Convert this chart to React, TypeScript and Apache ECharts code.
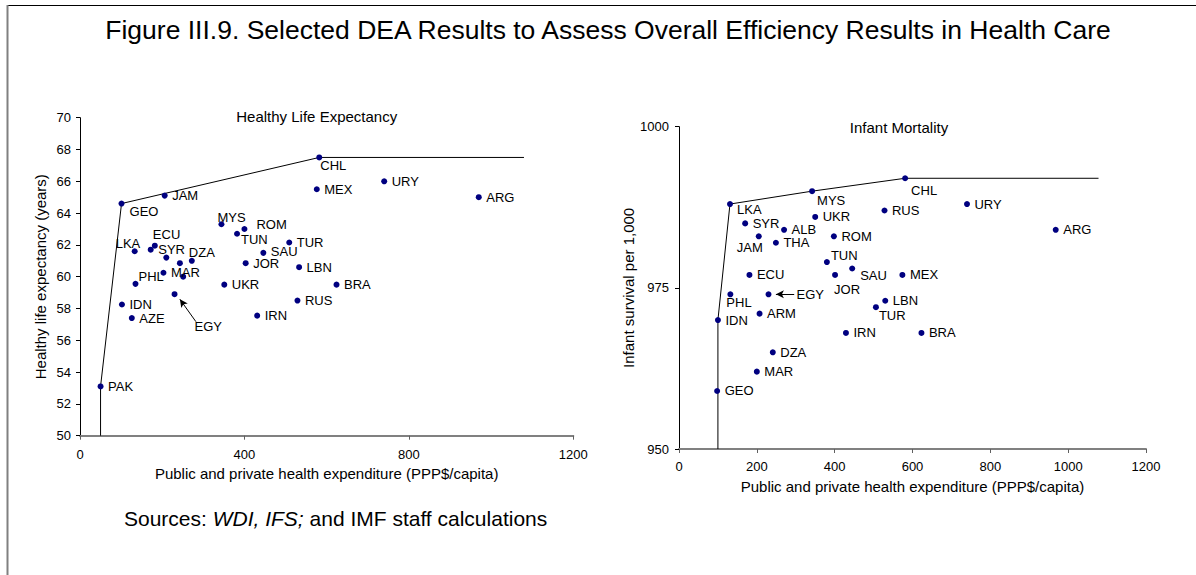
import React, { useEffect, useRef } from 'react';
import * as echarts from 'echarts';

// ---------- Data: Healthy Life Expectancy (left panel) ----------
const leftCountries = ['PAK', 'GEO', 'JAM', 'CHL', 'MEX', 'URY', 'ARG', 'MYS', 'ROM', 'TUN', 'LKA', 'ECU', 'SYR', '', 'DZA', '', '', 'JOR', 'SAU', 'TUR', 'LBN', 'BRA', 'RUS', 'PHL', 'MAR', 'IDN', 'AZE', 'UKR', 'IRN', 'EGY'];
const leftExpenditure = [50, 101, 206, 582, 576, 740, 970, 344, 400, 382, 133, 182, 172, 210, 272, 243, 251, 403, 446, 509, 533, 624, 529, 135, 203, 102, 126, 351, 431, 230];
const leftLifeExpectancy = [53.1, 64.6, 65.1, 67.5, 65.5, 66.0, 65.0, 63.3, 63.0, 62.7, 61.6, 61.95, 61.7, 61.2, 61.0, 60.85, 60.0, 60.85, 61.5, 62.15, 60.6, 59.5, 58.5, 59.55, 60.25, 58.25, 57.4, 59.5, 57.55, 58.9];
const leftFrontierExpenditure = [50, 50, 101, 582, 1080];
const leftFrontierLife = [50, 53.1, 64.6, 67.5, 67.5];
const leftEgyArrowFrom = [282, 57.17];
const leftEgyArrowTo = [243, 58.58];
const leftXTicks = [0, 400, 800, 1200];
const leftYTicks = [50, 52, 54, 56, 58, 60, 62, 64, 66, 68, 70];

// ---------- Data: Infant Mortality (right panel) ----------
const rightCountries = ['GEO', 'IDN', 'LKA', 'MYS', 'CHL', 'URY', 'RUS', 'ARG', 'MEX', 'LBN', 'SYR', 'UKR', 'ALB', 'JAM', 'THA', 'ROM', 'TUN', 'SAU', 'JOR', 'ECU', 'PHL', 'EGY', 'TUR', 'ARM', 'IRN', 'BRA', 'DZA', 'MAR'];
const rightExpenditure = [98, 100, 131, 342, 581, 740, 528, 968, 574, 530, 170, 350, 270, 205, 249, 398, 380, 445, 401, 181, 132, 230, 506, 207, 429, 623, 241, 200];
const rightSurvival = [959, 970, 988, 990, 992, 988, 987, 984, 977, 973, 985, 986, 984, 983, 982, 983, 979, 978, 977, 977, 974, 974, 972, 971, 968, 968, 965, 962];
const rightFrontierExpenditure = [100, 100, 131, 342, 581, 1078];
const rightFrontierSurvival = [950, 970, 988, 990, 992, 992];
const rightEgyArrowFrom = [296, 974];
const rightEgyArrowTo = [249, 974];
const rightXTicks = [0, 200, 400, 600, 800, 1000, 1200];
const rightYTicks = [950, 975, 1000];

// ---------- Texts ----------
const TITLE = 'Figure III.9. Selected DEA Results to Assess Overall Efficiency Results in Health Care';
const LEFT_TITLE = 'Healthy Life Expectancy';
const RIGHT_TITLE = 'Infant Mortality';
const X_NAME = 'Public and private health expenditure (PPP$/capita)';
const LEFT_Y_NAME = 'Healthy life expectancy (years)';
const RIGHT_Y_NAME = 'Infant survival per 1,000';

const FONT = "'Liberation Sans', Arial, Helvetica, sans-serif";
const DOT = '#000080';

// label placement (style, not data)
const leftLabelOffsets: Record<string, [number, number]> = {
  GEO: [8, 8], CHL: [1, 8], MYS: [-4, -7], ROM: [12, -5], TUN: [4, 6], LKA: [-19, -8],
  ECU: [-2, -11], DZA: [-3, -8], PHL: [3, -7], EGY: [20, 32], SAU: [7.5, -1.5], JOR: [7.5, 0.5],
};
const rightLabelOffsets: Record<string, [number, number]> = {
  LKA: [7, 5], MYS: [5, 9], CHL: [6, 12], JAM: [-22, 11], TUN: [4, -7], SAU: [8, 7],
  JOR: [-1, 15], PHL: [-4, 8], EGY: [28, 0], TUR: [3, 8],
};

function buildPoints(names: string[], xs: number[], ys: number[], offsets: Record<string, [number, number]>) {
  return names.map((n, i) => ({
    name: n,
    value: [xs[i], ys[i]],
    label: { offset: offsets[n] ?? [7.5, 0] },
  }));
}

function pairs(xs: number[], ys: number[]) {
  return xs.map((x, i) => [x, ys[i]]);
}

function tickRange(t: number[]) {
  return { min: t[0], max: t[t.length - 1], interval: t[1] - t[0] };
}

const axisLabelStyle = { color: '#000', fontSize: 13, fontFamily: FONT, formatter: (v: number) => String(v) };
const axisNameStyle = { color: '#000', fontSize: 15, fontFamily: FONT };

function xAxisCfg(ticks: number[], gridIndex: number, nameGap: number, labelMargin: number) {
  return {
    type: 'value',
    gridIndex,
    ...tickRange(ticks),
    name: X_NAME,
    nameLocation: 'middle',
    nameGap,
    nameTextStyle: axisNameStyle,
    axisLine: { show: true, onZero: false, lineStyle: { color: '#808080', width: 2 } },
    axisTick: { show: true, length: 4, lineStyle: { color: '#606060' } },
    axisLabel: { ...axisLabelStyle, margin: labelMargin },
    splitLine: { show: false },
  };
}

function yAxisCfg(ticks: number[], gridIndex: number, name: string, nameGap: number, labelMargin: number) {
  return {
    type: 'value',
    gridIndex,
    ...tickRange(ticks),
    name,
    nameLocation: 'middle',
    nameGap,
    nameTextStyle: axisNameStyle,
    axisLine: { show: true, onZero: false, lineStyle: { color: '#000', width: 1 } },
    axisTick: { show: true, length: 4, lineStyle: { color: '#000' } },
    axisLabel: { ...axisLabelStyle, margin: labelMargin },
    splitLine: { show: false },
  };
}

const scatterLabel = {
  show: true,
  position: 'inside',
  align: 'left',
  verticalAlign: 'middle',
  color: '#000',
  fontSize: 13,
  fontFamily: FONT,
  formatter: '{b}',
};

function arrow(from: number[], to: number[]) {
  return {
    silent: true,
    animation: false,
    symbol: ['none', 'arrow'],
    symbolSize: [6, 8],
    lineStyle: { color: '#000', width: 1, type: 'solid' },
    label: { show: false },
    emphasis: { disabled: true },
    data: [[{ coord: from }, { coord: to }]],
  };
}

export default function App() {
  const ref = useRef<HTMLDivElement>(null);

  useEffect(() => {
    if (!ref.current) return;
    const chart = echarts.init(ref.current, null, { renderer: 'svg' });
    chart.setOption({
      animation: false,
      backgroundColor: '#fff',
      grid: [
        { left: 80, top: 117.7, width: 493.3, height: 318 },
        { left: 679, top: 126.7, width: 467, height: 322.3 },
      ],
      xAxis: [xAxisCfg(leftXTicks, 0, 29, 12), xAxisCfg(rightXTicks, 1, 30, 11)],
      yAxis: [
        yAxisCfg(leftYTicks, 0, LEFT_Y_NAME, 32, 9),
        yAxisCfg(rightYTicks, 1, RIGHT_Y_NAME, 40, 10),
      ],
      series: [
        {
          type: 'line',
          xAxisIndex: 0,
          yAxisIndex: 0,
          data: pairs(leftFrontierExpenditure, leftFrontierLife),
          showSymbol: false,
          symbol: 'none',
          lineStyle: { color: '#000', width: 1 },
          silent: true,
          z: 1,
        },
        {
          type: 'line',
          xAxisIndex: 1,
          yAxisIndex: 1,
          data: pairs(rightFrontierExpenditure, rightFrontierSurvival),
          showSymbol: false,
          symbol: 'none',
          lineStyle: { color: '#000', width: 1 },
          silent: true,
          z: 1,
        },
        {
          type: 'scatter',
          xAxisIndex: 0,
          yAxisIndex: 0,
          symbol: 'circle',
          symbolSize: 6,
          itemStyle: { color: DOT, opacity: 1 },
          label: scatterLabel,
          data: buildPoints(leftCountries, leftExpenditure, leftLifeExpectancy, leftLabelOffsets),
          markLine: arrow(leftEgyArrowFrom, leftEgyArrowTo),
          z: 3,
        },
        {
          type: 'scatter',
          xAxisIndex: 1,
          yAxisIndex: 1,
          symbol: 'circle',
          symbolSize: 6,
          itemStyle: { color: DOT, opacity: 1 },
          label: scatterLabel,
          data: buildPoints(rightCountries, rightExpenditure, rightSurvival, rightLabelOffsets),
          markLine: arrow(rightEgyArrowFrom, rightEgyArrowTo),
          z: 3,
        },
      ],
      graphic: [
        { type: 'line', silent: true, shape: { x1: 8, y1: 5.5, x2: 1196, y2: 5.5 }, style: { stroke: '#000', lineWidth: 1 } },
        { type: 'line', silent: true, shape: { x1: 7.5, y1: 5, x2: 7.5, y2: 575 }, style: { stroke: '#808080', lineWidth: 2 } },
        {
          type: 'text', silent: true, x: 608, y: 30,
          style: { text: TITLE, fontSize: 26.5, fontFamily: FONT, fill: '#000', align: 'center', verticalAlign: 'middle' },
        },
        {
          type: 'text', silent: true, x: 316.7, y: 116,
          style: { text: LEFT_TITLE, fontSize: 15, fontFamily: FONT, fill: '#000', align: 'center', verticalAlign: 'middle' },
        },
        {
          type: 'text', silent: true, x: 899, y: 127,
          style: { text: RIGHT_TITLE, fontSize: 15, fontFamily: FONT, fill: '#000', align: 'center', verticalAlign: 'middle' },
        },
        {
          type: 'text', silent: true, x: 124, y: 518,
          style: {
            text: '{n|Sources: }{i|WDI, IFS;}{n| and IMF staff calculations}',
            fontSize: 21, fontFamily: FONT, fill: '#000', align: 'left', verticalAlign: 'middle',
            rich: {
              n: { fontSize: 21, fontFamily: FONT, fill: '#000' },
              i: { fontSize: 21, fontFamily: FONT, fontStyle: 'italic', fill: '#000' },
            },
          },
        },
      ],
    });
    return () => chart.dispose();
  }, []);

  return (
    <div
      ref={ref}
      style={{ position: 'fixed', left: 0, top: 0, width: 1196, height: 575, background: '#fff' }}
    />
  );
}
